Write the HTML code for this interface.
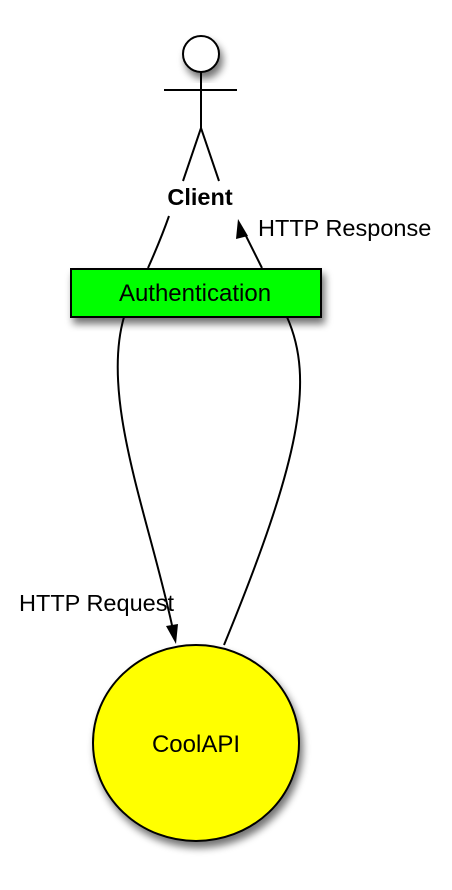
<!DOCTYPE html>
<html><head><meta charset="utf-8"><style>
html,body{margin:0;padding:0;background:#fff;}
svg{display:block;}
text{font-family:"Liberation Sans",Arial,sans-serif;}
</style></head><body>
<svg width="452" height="890" viewBox="0 0 452 890" xmlns="http://www.w3.org/2000/svg">
<defs>
<filter id="sh" x="-30%" y="-30%" width="160%" height="160%">
<feGaussianBlur in="SourceAlpha" stdDeviation="4"/>
<feOffset dx="3" dy="6" result="b"/>
<feComponentTransfer><feFuncA type="linear" slope="0.55"/></feComponentTransfer>
<feMerge><feMergeNode/><feMergeNode in="SourceGraphic"/></feMerge>
</filter>
</defs>
<circle cx="201" cy="54" r="18" fill="#fff" stroke="#000" stroke-width="2" filter="url(#sh)"/>
<g stroke="#000" stroke-width="2" fill="none">
<line x1="164" y1="90" x2="237" y2="90"/>
<line x1="201" y1="72" x2="201" y2="128"/>
<polyline points="183,181 201,128 219,181"/>
<path d="M169,216 C162,236 156,250 148,268"/>
<line x1="262" y1="268" x2="243" y2="230"/>
<path d="M124,317 C100,400 150,520 173,630"/>
<path d="M287,317 C315,380 300,460 224,645"/>
</g>
<polygon points="238,219 248,236 236,239" fill="#000"/>
<polygon points="176,644 166,626 178,624" fill="#000"/>
<text x="200" y="205" font-size="23.5" font-weight="bold" text-anchor="middle">Client</text>
<text x="258" y="236" font-size="23.5">HTTP Response</text>
<text x="19" y="611" font-size="23.5">HTTP Request</text>
<rect x="71" y="269" width="250" height="48" fill="#00ff00" stroke="#000" stroke-width="2" filter="url(#sh)"/>
<text x="195" y="301" font-size="24" text-anchor="middle">Authentication</text>
<ellipse cx="196" cy="743" rx="103" ry="98" fill="#ffff00" stroke="#000" stroke-width="2" filter="url(#sh)"/>
<text x="196" y="752" font-size="24" text-anchor="middle">CoolAPI</text>
</svg>
</body></html>
